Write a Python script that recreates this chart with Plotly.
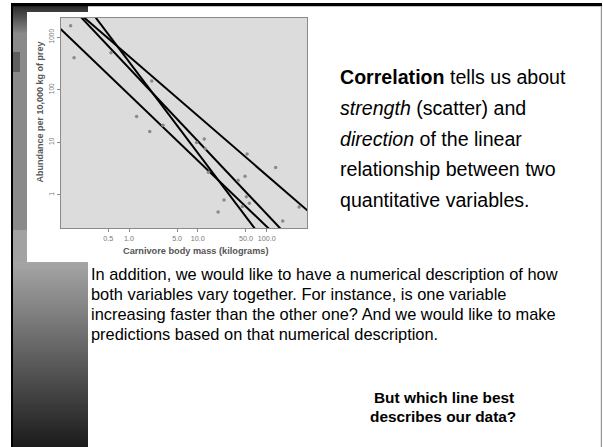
import plotly.graph_objects as go
import numpy as np

# ---------------- data ----------------
body_mass = [0.142, 0.159, 0.547, 2.14, 1.29, 2.0, 3.12, 9.6, 12.4, 12.8, 14.2,
             51.9, 38.4, 48.5, 50.7, 56.0, 24.0, 44.4, 19.7, 135.0, 171.0, 296.0]
abundance = [1655, 407, 507, 147, 30.8, 16.0, 21.0, 9.9, 11.5, 7.5, 2.68,
             6.0, 1.9, 2.25, 0.92, 0.69, 0.80, 0.60, 0.47, 3.3, 0.32, 0.59]
# candidate lines in log10-log10 space: log10(abundance) = a + b*log10(mass)
line_intercepts = [1.909, 2.412, 2.532, 2.635]
line_slopes = [-1.256, -1.388, -1.736, -1.131]

x_tick_vals = [0.5, 1, 5, 10, 50, 100]
x_tick_text = ["0.5", "1.0", "5.0", "10.0", "50.0", "100.0"]
y_tick_vals = [1, 10, 100, 1000]
y_tick_text = ["1", "10", "100", "1000"]

x_log_range = [-0.988, 2.59]
y_log_range = [-0.63, 3.37]

W, H = 603, 447

fig = go.Figure()

# candidate lines
lx = np.array([x_log_range[0] - 0.05, x_log_range[1] + 0.05])
for a, b in zip(line_intercepts, line_slopes):
    fig.add_trace(go.Scatter(x=10 ** lx, y=10 ** (a + b * lx), mode="lines",
                             line=dict(color="black", width=2), hoverinfo="skip"))

# data points
fig.add_trace(go.Scatter(x=body_mass, y=abundance, mode="markers",
                         marker=dict(color="#8a8a8a", size=3.5), hoverinfo="skip"))

# ---------------- slide decorations ----------------
shapes = []


def rect(x0, y0, x1, y1, color):
    shapes.append(dict(type="rect", xref="paper", yref="paper",
                       x0=x0 / W, x1=x1 / W, y0=1 - y1 / H, y1=1 - y0 / H,
                       fillcolor=color, line=dict(width=0), layer="below"))


def grey(v):
    v = int(round(v))
    return f"rgb({v},{v},{v})"


# top dark gradient of the left strip (overlapping bands, no gaps)
rect(13, 6, 88, 12, grey(45))
n = 20
for i in range(n):
    y0 = 6 + (35 - 6) * i / n
    v = 45 + (140 - 45) * i / (n - 1)
    if y0 < 12:
        rect(13, y0, 88, 12, grey(v))
    rect(13, max(y0, 12), 27, 35, grey(v))
# textured area (approximated)
rect(13, 35, 27, 230, grey(138))
rect(13, 52, 20, 72, grey(95))
rect(13, 230, 27, 262, grey(162))
# bottom gradient (overlapping bands)
n = 80
for i in range(n):
    y0 = 262 + (447 - 262) * i / n
    v = 165 - (165 - 28) * i / (n - 1)
    rect(13, y0, 88, 447, grey(v))
# frame
rect(11, 3, 602, 6.3, "black")
rect(11, 3, 13, 447, "black")
rect(600.8, 6, 602, 447, grey(150))

# ---------------- annotations ----------------
ann = []
slide_font = "Liberation Sans, Arial, sans-serif"


def text(x, y, s, size, anchor="left", color="black", angle=0, family=slide_font):
    ann.append(dict(x=x / W, y=1 - y / H, xref="paper", yref="paper", text=s,
                    showarrow=False, xanchor=anchor, yanchor="middle",
                    textangle=angle, borderpad=0,
                    font=dict(family=family, size=size, color=color)))


right_lines = ["<b>Correlation</b> tells us about",
               "<i>strength</i> (scatter) and",
               "<i>direction</i> of the linear",
               "relationship between two",
               "quantitative variables."]
for i, s in enumerate(right_lines):
    text(339, 77 + 30.8 * i, s, 19.6)

body_lines = ["In addition, we would like to have a numerical description of how",
              "both variables vary together. For instance, is one variable",
              "increasing faster than the other one? And we would like to make",
              "predictions based on that numerical description."]
for i, s in enumerate(body_lines):
    text(90, 274 + 19.9 * i, s, 16.4)

text(444, 397, "<b>But which line best</b>", 15.4, anchor="center")
text(443, 416, "<b>describes our data?</b>", 15.4, anchor="center")

chart_font = "Liberation Sans, Arial, sans-serif"
text(196, 251.5, "<b>Carnivore body mass (kilograms)</b>", 9.2, anchor="center",
     color="#555555", family=chart_font)
text(39.5, 112, "<b>Abundance per 10,000 kg of prey</b>", 9.0, anchor="center",
     color="#555555", angle=-90, family=chart_font)

fig.update_layout(
    width=W, height=H, margin=dict(l=0, r=0, t=0, b=0),
    paper_bgcolor="white", plot_bgcolor="#dcdcdc", showlegend=False,
    shapes=shapes, annotations=ann,
    xaxis=dict(type="log", range=x_log_range, domain=[61 / W, 307.3 / W],
               showgrid=False, zeroline=False, showline=True, mirror=True,
               linecolor="#8a8a8a", linewidth=1.2, ticks="outside", ticklen=3,
               tickcolor="#8a8a8a", tickvals=x_tick_vals, ticktext=x_tick_text,
               tickfont=dict(family=chart_font, size=7.2, color="#777777")),
    yaxis=dict(type="log", range=y_log_range, domain=[1 - 228 / H, 1 - 17.7 / H],
               showgrid=False, zeroline=False, showline=True, mirror=True,
               linecolor="#8a8a8a", linewidth=1.2, ticks="outside", ticklen=3,
               tickcolor="#8a8a8a", tickvals=y_tick_vals, ticktext=y_tick_text,
               tickangle=-90,
               tickfont=dict(family=chart_font, size=6.5, color="#777777")),
)

fig.write_html("out.html", config={"displayModeBar": False},
               post_script="document.body.style.margin='0';document.body.style.overflow='hidden';")
